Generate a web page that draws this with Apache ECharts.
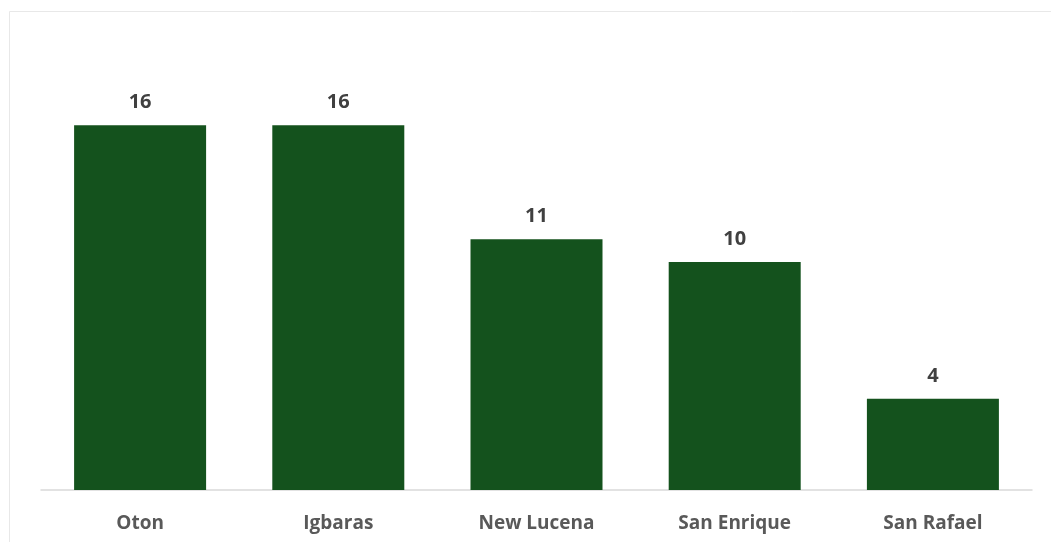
<!DOCTYPE html>
<html>
<head>
<meta charset="utf-8">
<script src="https://cdn.jsdelivr.net/npm/echarts@6/dist/echarts.min.js"></script>
<style>
  html, body { margin: 0; padding: 0; background: #fff; }
  #main { width: 1051px; height: 542px; }
</style>
</head>
<body>
<div id="main"></div>
<script>
    const categories = ['Oton', 'Igbaras', 'New Lucena', 'San Enrique', 'San Rafael']
    const values = [16, 16, 11, 10, 4]

    let chart = echarts.init(document.getElementById('main'))
    let option = {
        backgroundColor: '#fff',
        animation: false,
        // outer chart border
        graphic: [{
            type: 'rect',
            shape: { x: 9.5, y: 11.5, width: 1060, height: 560 },
            style: { fill: 'none', stroke: '#e8e8e8', lineWidth: 1 },
            silent: true
        }],
        grid: {
            left: 41,
            right: 19,
            top: 34,
            bottom: 52
        },
        xAxis: {
            type: 'category',
            data: categories,
            axisLine: { lineStyle: { color: '#d9d9d9', width: 1.5 } },
            axisTick: { show: false },
            axisLabel: {
                margin: 24,
                color: '#595959',
                fontSize: 19,
                fontWeight: 'bold',
                fontFamily: 'Open Sans'
            }
        },
        yAxis: {
            type: 'value',
            min: 0,
            max: 20,
            show: false,
            splitLine: { show: false }
        },
        series: [{
            type: 'bar',
            data: values,
            barWidth: '66.6%',
            itemStyle: { color: '#14521d' },
            label: {
                show: true,
                position: 'top',
                distance: 13,
                color: '#404040',
                fontSize: 20,
                fontWeight: 'bold',
                fontFamily: 'Open Sans'
            }
        }]
    }
    chart.setOption(option)
</script>
</body>
</html>
